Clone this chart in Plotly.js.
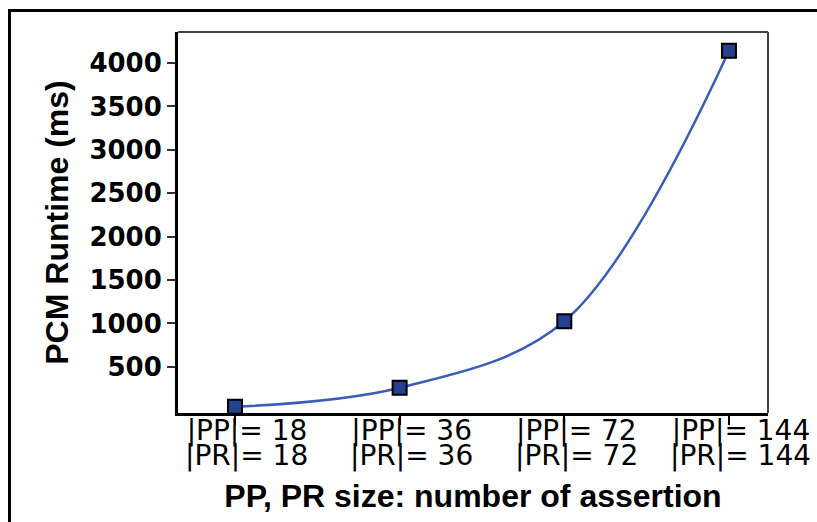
<!DOCTYPE html>
<html>
<head>
<meta charset="utf-8">
<script src="https://cdn.plot.ly/plotly-3.0.1.min.js"></script>
<style>
  html, body { margin: 0; padding: 0; background: #fff; }
  #chart { width: 817px; height: 522px; position: relative; }
  #frame { position: absolute; left: 8px; top: 9px; width: 900px; height: 600px;
           border: 3px solid #000; pointer-events: none; box-sizing: border-box; }
  #wrap { position: relative; width: 817px; height: 522px; overflow: hidden; }
</style>
</head>
<body>
<div id="wrap">
  <div id="chart"></div>
  <div id="frame"></div>
</div>
<script>
// Data
const positions = [0, 1, 2, 3];
const ppLabels = ["|PP|= 18", "|PP|= 36", "|PP|= 72", "|PP|= 144"];
const prLabels = ["|PR|= 18", "|PR|= 36", "|PR|= 72", "|PR|= 144"];
const runtimeMs = [40, 260, 1025, 4140];
const yTickVals = [500, 1000, 1500, 2000, 2500, 3000, 3500, 4000];

const trace = {
  x: positions,
  y: runtimeMs,
  type: 'scatter',
  mode: 'lines+markers',
  line: { color: '#3b5cb8', width: 2.5, shape: 'spline', smoothing: 1 },
  marker: { symbol: 'square', size: 14, color: '#24408f', line: { color: '#000', width: 2 } },
  cliponaxis: false,
  hoverinfo: 'skip'
};

const labelFont = { family: 'DejaVu Sans, sans-serif', size: 28, color: '#000' };

const annotations = positions.map((p, i) => ({
  x: p, xref: 'x', y: 0, yref: 'paper',
  text: prLabels[i], showarrow: false,
  xanchor: 'center', yanchor: 'middle', yshift: -42, xshift: 12,
  font: labelFont
}));

const layout = {
  width: 817, height: 522,
  margin: { l: 178, r: 49, t: 32, b: 109 },
  paper_bgcolor: '#fff', plot_bgcolor: '#fff',
  showlegend: false,
  xaxis: {
    range: [-0.346, 3.237],
    tickmode: 'array', tickvals: positions, ticktext: ppLabels,
    ticks: 'outside', ticklen: 9, tickwidth: 2, tickcolor: '#000',
    ticklabelstandoff: -19, ticklabelshift: 12,
    showline: true, linecolor: '#000', linewidth: 3,
    showgrid: false, zeroline: false,
    tickfont: labelFont,
    title: { text: 'PP, PR size: number of assertion', standoff: 40,
             font: { family: 'Liberation Sans, Arial, sans-serif', size: 32, color: '#000', weight: 'bold' } }
  },
  xaxis2: {
    overlaying: 'x', range: [-0.346, 3.237],
    tickmode: 'array', tickvals: positions, ticktext: ['', '', '', ''],
    ticks: 'inside', ticklen: 8, tickwidth: 2, tickcolor: '#000',
    showline: false, showgrid: false, zeroline: false, side: 'bottom', anchor: 'y'
  },
  yaxis: {
    range: [-31, 4357],
    tickmode: 'array', tickvals: yTickVals,
    ticks: 'outside', ticklen: 8, tickwidth: 2, tickcolor: '#333',
    showline: true, linecolor: '#000', linewidth: 3,
    showgrid: false, zeroline: false,
    tickfont: { family: 'DejaVu Sans, sans-serif', size: 26, color: '#000', weight: 'bold' },
    title: { text: 'PCM Runtime (ms)', standoff: 12,
             font: { family: 'Liberation Sans, Arial, sans-serif', size: 32, color: '#000', weight: 'bold' } }
  },
  shapes: [
    { type: 'line', xref: 'paper', yref: 'paper', x0: 0, x1: 1, y0: 1, y1: 1, line: { color: '#444', width: 2 } },
    { type: 'line', xref: 'paper', yref: 'paper', x0: 1, x1: 1, y0: 0, y1: 1, line: { color: '#444', width: 2 } }
  ],
  annotations: annotations
};

Plotly.newPlot('chart', [trace], layout, { staticPlot: true, displayModeBar: false });
</script>
</body>
</html>
